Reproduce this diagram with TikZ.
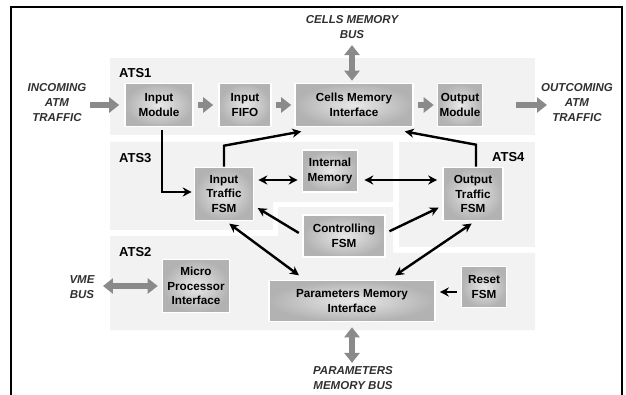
\documentclass[tikz,border=0pt]{standalone}
\usepackage{fontspec}
\setmainfont{Liberation Sans}
\usetikzlibrary{arrows.meta,positioning,calc}

\definecolor{areafill}{HTML}{F2F2F2}
\definecolor{boxin}{HTML}{E8E8E8}
\definecolor{boxout}{HTML}{B2B2B2}
\definecolor{busgray}{HTML}{8A8A8A}
\definecolor{labgray}{HTML}{303030}

\begin{document}
\begin{tikzpicture}[
      x=1pt, y=-1pt,
      >={Stealth[length=9pt,width=9pt]},
      area/.style  ={fill=areafill, draw=none},
      unit/.style  ={rectangle, draw=white, line width=1.6pt,
                     inner color=boxin, outer color=boxout,
                     align=center, inner sep=2pt,
                     font=\fontsize{11.7}{14.5}\selectfont\bfseries},
      ats/.style   ={anchor=west, inner sep=0pt,
                     font=\fontsize{13}{15}\selectfont\bfseries},
      ext/.style   ={align=center, text=labgray,
                     font=\fontsize{11.5}{15}\selectfont\bfseries\itshape},
      ctl/.style   ={line width=2.4pt},
      bus/.style   ={line width=6pt, draw=busgray,
                     -{Triangle[length=10pt,width=15pt]}},
      dbus/.style  ={line width=6pt, draw=busgray,
                     {Triangle[length=10pt,width=15pt]}-{Triangle[length=10pt,width=15pt]}}
    ]
    \useasboundingbox (0,0) rectangle (626,395);

    % shaded areas
    \fill[area] (110,58) rectangle (535,135);
    \fill[area] (110,142) -- (393,142) -- (393,202) -- (273,202)
                -- (273,230) -- (110,230) -- cycle;
    \fill[area] (399,142) rectangle (535,247);
    \fill[area] (110,236) -- (278,236) -- (278,207) -- (393,207)
                -- (393,253) -- (535,253) -- (535,330) -- (110,330) -- cycle;

    % frame
    \draw[line width=1.6pt] (11,395) -- (11,7) -- (622,7) -- (622,395);

    \node[ats] (ats1) at (119,73)  {ATS1};
    \node[ats] (ats3) at (119,158) {ATS3};
    \node[ats] (ats2) at (119,252) {ATS2};
    \node[ats] (ats4) at (492,157) {ATS4};

    \node[unit, minimum width=68pt,  minimum height=43pt] (inmod)  at (159,105) {Input\\Module};
    \node[unit, minimum width=52pt,  minimum height=43pt] (infifo) at (245,105) {Input\\FIFO};
    \node[unit, minimum width=118pt, minimum height=43pt] (cells)  at (354,105) {Cells Memory\\Interface};
    \node[unit, minimum width=44pt,  minimum height=43pt] (outmod) at (460,105) {Output\\Module};

    \node[unit, minimum width=59pt, minimum height=53pt] (itfsm)  at (224,194) {Input\\Traffic\\FSM};
    \node[unit, minimum width=55pt, minimum height=42pt] (intmem) at (330,171) {Internal\\Memory};
    \node[unit, minimum width=60pt, minimum height=53pt] (otfsm)  at (473,194) {Output\\Traffic\\FSM};
    \node[unit, minimum width=82pt, minimum height=42pt] (ctrl)   at (344,236) {Controlling\\FSM};

    \node[unit, minimum width=67pt,  minimum height=53pt] (mpi)    at (196,286) {Micro\\Processor\\Interface};
    \node[unit, minimum width=166pt, minimum height=41pt] (params) at (352,301) {Parameters Memory\\Interface};
    \node[unit, minimum width=45pt,  minimum height=41pt] (reset)  at (484,287) {Reset\\FSM};

    \node[ext] (incoming) at (57,103)  {INCOMING\\ATM\\TRAFFIC};
    \node[ext] (outgoing) at (577,103) {OUTCOMING\\ATM\\TRAFFIC};
    \node[ext] (cmbus)    at (352,27)  {CELLS MEMORY\\BUS};
    \node[ext] (pmbus)    at (353,378) {PARAMETERS\\MEMORY BUS};
    \node[ext] (vme)      at (82,287)  {VME\\BUS};

    \coordinate (outtip) at (547,105);
    \coordinate (memrow) at (0,180);

    % cell path
    \draw[bus, shorten >=5pt] (incoming.east |- inmod.west) -- (inmod.west);
    \draw[bus, shorten <=4pt, shorten >=5pt] (inmod) -- (infifo);
    \draw[bus, shorten <=4pt, shorten >=3pt] (infifo) -- (cells);
    \draw[bus, shorten <=4pt, shorten >=3pt] (cells) -- (outmod);
    \draw[bus, shorten <=33pt] (outmod.east) -- (outtip);

    % memory buses
    \draw[dbus, shorten <=3pt, shorten >=2pt] (cmbus.south) -- (cmbus.south |- cells.north);
    \draw[dbus, shorten <=5pt] (params.south) -- (params.south |- pmbus.north);
    \draw[dbus, shorten <=5pt, shorten >=4pt] (vme.east |- mpi.west) -- (mpi.west);

    % control lines
    \draw[ctl, ->, shorten <=3pt, shorten >=2pt] ([xshift=3pt]inmod.south) |- ([yshift=2pt]itfsm.west);
    \draw[ctl, ->, shorten >=1pt] (itfsm.north) -- ++(0,-21)
          -- ([xshift=8pt,yshift=-4pt]cells.south west);
    \draw[ctl, ->, shorten >=1pt] ([xshift=3pt]otfsm.north) -- ++(0,-22)
          -- ([xshift=-10pt,yshift=-4pt]cells.south east);

    \draw[ctl, <->, shorten <=4pt, shorten >=4pt] (itfsm.east |- memrow) -- (intmem.west |- memrow);
    \draw[ctl, <->, shorten <=6pt, shorten >=5pt] (intmem.east |- memrow) -- (otfsm.west |- memrow);

    \draw[ctl, ->, shorten <=4pt, shorten >=4pt] ([yshift=1pt]ctrl.west) -- ([yshift=-12pt]itfsm.east);
    \draw[ctl, ->, shorten <=4pt, shorten >=4pt] ([yshift=3pt]ctrl.east) -- ([yshift=-12pt]otfsm.west);

    \draw[ctl, <->, shorten <=4pt, shorten >=4pt] ([xshift=2pt]itfsm.south)
          -- ([xshift=34pt,yshift=2pt]params.north west);
    \draw[ctl, <->, shorten <=4pt, shorten >=4pt] ([xshift=2pt]otfsm.south)
          -- ([xshift=-44pt,yshift=2pt]params.north east);

    \draw[ctl, ->, shorten <=4pt, shorten >=4pt] ([yshift=-5pt]reset.west) -- ([yshift=9pt]params.east);
\end{tikzpicture}
\end{document}
